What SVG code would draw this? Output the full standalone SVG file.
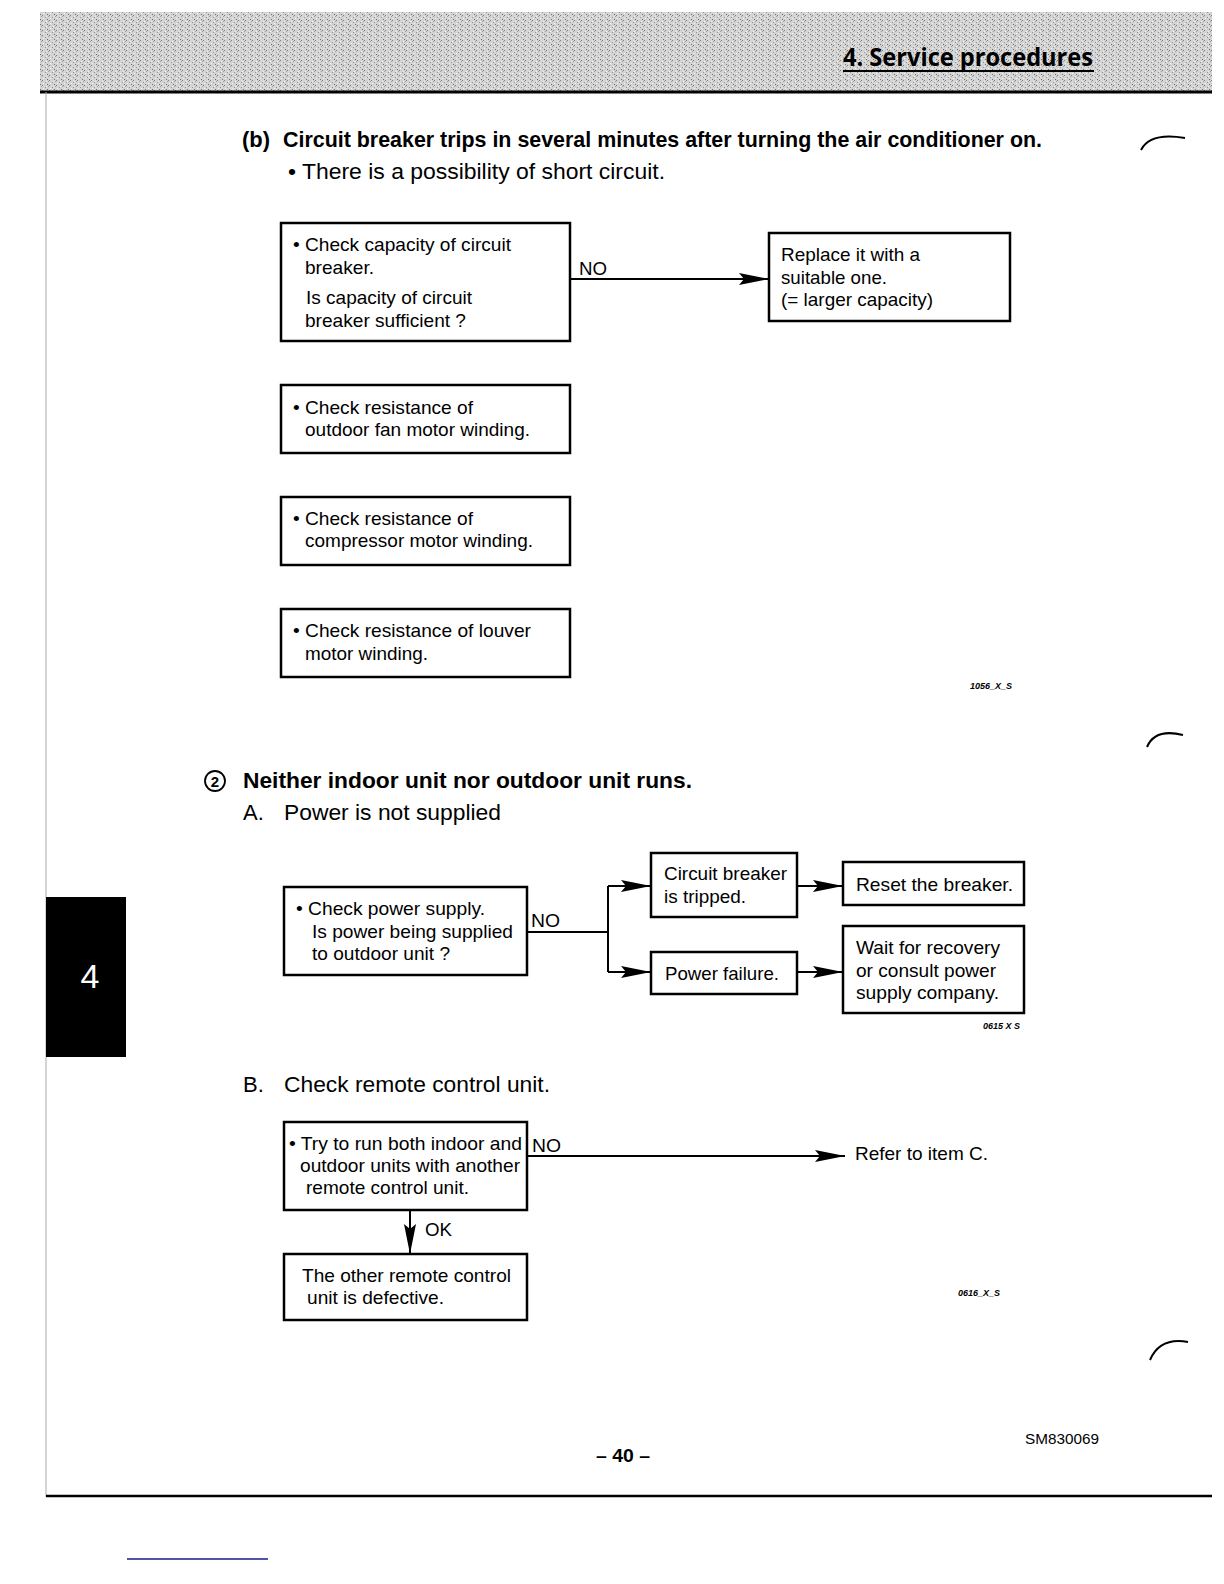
<svg xmlns="http://www.w3.org/2000/svg" width="1224" height="1584" viewBox="0 0 1224 1584">
<defs>
<pattern id="speck" width="7" height="5" patternUnits="userSpaceOnUse">
<rect width="7" height="5" fill="#d4d4d4"/>
<rect x="0" y="0" width="1" height="1" fill="#7e7e7e"/>
<rect x="3" y="2" width="1" height="1" fill="#959595"/>
<rect x="5" y="4" width="1" height="1" fill="#707070"/>
<rect x="6" y="1" width="1" height="1" fill="#a0a0a0"/>
<rect x="1" y="3" width="1" height="1" fill="#f2f2f2"/>
<rect x="4" y="1" width="1" height="1" fill="#f0f0f0"/>
</pattern>
<marker id="arr" markerUnits="userSpaceOnUse" markerWidth="34" markerHeight="16" refX="30" refY="8" orient="auto">
<path d="M0,2 L30,8 L0,14 L5,8 Z" fill="#000"/>
</marker>
</defs>
<style>
.box{fill:#fff;stroke:#000;stroke-width:2.5}
.t{font-family:"Liberation Sans",Arial,sans-serif;font-size:19px;fill:#000}
.h{font-family:"Liberation Sans",Arial,sans-serif;font-size:22px;font-weight:bold;fill:#000}
.s{font-family:"Liberation Sans",Arial,sans-serif;font-size:22px;fill:#000}
.c{fill:none;stroke:#000;stroke-width:2}
.code{font-family:"Liberation Sans",Arial,sans-serif;font-size:9px;font-style:italic;font-weight:bold;fill:#000}
</style>

<!-- header band -->
<rect x="40" y="12" width="1172" height="80" fill="url(#speck)"/>
<line x1="40" y1="92" x2="1212" y2="92" stroke="#000" stroke-width="3"/>
<text x="843" y="66" font-family="'Open Sans','Liberation Sans',sans-serif" font-size="25" font-weight="bold" textLength="250" lengthAdjust="spacingAndGlyphs">4. Service procedures</text>
<line x1="843" y1="71" x2="1094" y2="71" stroke="#000" stroke-width="2"/>

<!-- page frame -->
<line x1="46" y1="92" x2="46" y2="1497" stroke="#aaa" stroke-width="1"/>
<line x1="46" y1="1496" x2="1212" y2="1496" stroke="#000" stroke-width="2.5"/>
<line x1="127" y1="1559" x2="268" y2="1559" stroke="#1a1a8c" stroke-width="1.5"/>

<!-- tab -->
<rect x="46" y="897" width="80" height="160" fill="#000"/>
<text x="90" y="988" font-family="'Liberation Sans',Arial,sans-serif" font-size="34" fill="#fff" text-anchor="middle">4</text>

<!-- corner marks -->
<path d="M1141,150 Q1150,132 1185,138" class="c"/>
<path d="M1147,747 Q1155,728 1183,735" class="c"/>
<path d="M1150,1360 Q1160,1337 1188,1342" class="c"/>

<!-- section (b) -->
<text class="h" x="242" y="147" textLength="28" lengthAdjust="spacingAndGlyphs">(b)</text>
<text class="h" x="283" y="147" textLength="759" lengthAdjust="spacingAndGlyphs">Circuit breaker trips in several minutes after turning the air conditioner on.</text>
<text class="s" x="288" y="179" textLength="377" lengthAdjust="spacingAndGlyphs">• There is a possibility of short circuit.</text>

<g id="connectors">
<line x1="570" y1="279" x2="769" y2="279" class="c" marker-end="url(#arr)"/>
<polyline points="527,932 608,932" class="c"/>
<polyline points="608,886 608,972" class="c"/>
<line x1="608" y1="886" x2="651" y2="886" class="c" marker-end="url(#arr)"/>
<line x1="608" y1="972" x2="651" y2="972" class="c" marker-end="url(#arr)"/>
<line x1="797" y1="886" x2="843" y2="886" class="c" marker-end="url(#arr)"/>
<line x1="797" y1="972" x2="843" y2="972" class="c" marker-end="url(#arr)"/>
<line x1="527" y1="1156" x2="845" y2="1156" class="c" marker-end="url(#arr)"/>
<line x1="410" y1="1210" x2="410" y2="1254" class="c" marker-end="url(#arr)"/>
<text class="t" x="579" y="275" textLength="28" lengthAdjust="spacingAndGlyphs">NO</text>
<text class="t" x="531" y="927" textLength="29" lengthAdjust="spacingAndGlyphs">NO</text>
<text class="t" x="532" y="1152" textLength="29" lengthAdjust="spacingAndGlyphs">NO</text>
<text class="t" x="425" y="1236" textLength="27" lengthAdjust="spacingAndGlyphs">OK</text>
</g>

<g id="n1">
<rect class="box" x="281" y="223" width="289" height="118"/>
<text class="t" x="293" y="251" textLength="218" lengthAdjust="spacingAndGlyphs">• Check capacity of circuit</text>
<text class="t" x="305" y="274" textLength="69" lengthAdjust="spacingAndGlyphs">breaker.</text>
<text class="t" x="306" y="304" textLength="166" lengthAdjust="spacingAndGlyphs">Is capacity of circuit</text>
<text class="t" x="305" y="327" textLength="161" lengthAdjust="spacingAndGlyphs">breaker sufficient ?</text>
</g>
<g id="n2">
<rect class="box" x="769" y="233" width="241" height="88"/>
<text class="t" x="781" y="261" textLength="139" lengthAdjust="spacingAndGlyphs">Replace it with a</text>
<text class="t" x="781" y="284" textLength="106" lengthAdjust="spacingAndGlyphs">suitable one.</text>
<text class="t" x="781" y="306" textLength="152" lengthAdjust="spacingAndGlyphs">(= larger capacity)</text>
</g>
<g id="n3">
<rect class="box" x="281" y="385" width="289" height="68"/>
<text class="t" x="293" y="414" textLength="180" lengthAdjust="spacingAndGlyphs">• Check resistance of</text>
<text class="t" x="305" y="436" textLength="225" lengthAdjust="spacingAndGlyphs">outdoor fan motor winding.</text>
</g>
<g id="n4">
<rect class="box" x="281" y="497" width="289" height="68"/>
<text class="t" x="293" y="525" textLength="180" lengthAdjust="spacingAndGlyphs">• Check resistance of</text>
<text class="t" x="305" y="547" textLength="228" lengthAdjust="spacingAndGlyphs">compressor motor winding.</text>
</g>
<g id="n5">
<rect class="box" x="281" y="609" width="289" height="68"/>
<text class="t" x="293" y="637" textLength="238" lengthAdjust="spacingAndGlyphs">• Check resistance of louver</text>
<text class="t" x="305" y="660" textLength="123" lengthAdjust="spacingAndGlyphs">motor winding.</text>
</g>
<text class="code" x="970" y="689">1056_X_S</text>

<!-- section 2 -->
<circle cx="215" cy="781" r="10" fill="none" stroke="#000" stroke-width="1.8"/>
<text x="215" y="787" font-family="'Liberation Sans',Arial,sans-serif" font-size="15" font-weight="bold" text-anchor="middle">2</text>
<text class="h" x="243" y="788" textLength="449" lengthAdjust="spacingAndGlyphs">Neither indoor unit nor outdoor unit runs.</text>
<text class="s" x="243" y="820">A.</text>
<text class="s" x="284" y="820" textLength="217" lengthAdjust="spacingAndGlyphs">Power is not supplied</text>

<g id="a1">
<rect class="box" x="284" y="887" width="243" height="88"/>
<text class="t" x="296" y="915" textLength="189" lengthAdjust="spacingAndGlyphs">• Check power supply.</text>
<text class="t" x="312" y="938" textLength="201" lengthAdjust="spacingAndGlyphs">Is power being supplied</text>
<text class="t" x="312" y="960" textLength="138" lengthAdjust="spacingAndGlyphs">to outdoor unit ?</text>
</g>
<g id="a2">
<rect class="box" x="651" y="853" width="146" height="64"/>
<text class="t" x="664" y="880" textLength="123" lengthAdjust="spacingAndGlyphs">Circuit breaker</text>
<text class="t" x="664" y="903" textLength="82" lengthAdjust="spacingAndGlyphs">is tripped.</text>
</g>
<g id="a3">
<rect class="box" x="651" y="952" width="146" height="42"/>
<text class="t" x="665" y="980" textLength="114" lengthAdjust="spacingAndGlyphs">Power failure.</text>
</g>
<g id="a4">
<rect class="box" x="843" y="862" width="181" height="43"/>
<text class="t" x="856" y="891" textLength="157" lengthAdjust="spacingAndGlyphs">Reset the breaker.</text>
</g>
<g id="a5">
<rect class="box" x="843" y="926" width="181" height="87"/>
<text class="t" x="856" y="954" textLength="144" lengthAdjust="spacingAndGlyphs">Wait for recovery</text>
<text class="t" x="856" y="977" textLength="140" lengthAdjust="spacingAndGlyphs">or consult power</text>
<text class="t" x="856" y="999" textLength="143" lengthAdjust="spacingAndGlyphs">supply company.</text>
</g>
<text class="code" x="983" y="1029" font-size="8">0615 X S</text>

<text class="s" x="243" y="1092">B.</text>
<text class="s" x="284" y="1092" textLength="266" lengthAdjust="spacingAndGlyphs">Check remote control unit.</text>

<g id="b1">
<rect class="box" x="284" y="1122" width="243" height="88"/>
<text class="t" x="289" y="1150" textLength="233" lengthAdjust="spacingAndGlyphs">• Try to run both indoor and</text>
<text class="t" x="300" y="1172" textLength="220" lengthAdjust="spacingAndGlyphs">outdoor units with another</text>
<text class="t" x="306" y="1194" textLength="163" lengthAdjust="spacingAndGlyphs">remote control unit.</text>
</g>
<g id="b3">
<text class="t" x="855" y="1160" textLength="133" lengthAdjust="spacingAndGlyphs">Refer to item C.</text>
</g>
<g id="b2">
<rect class="box" x="284" y="1254" width="243" height="66"/>
<text class="t" x="302" y="1282" textLength="209" lengthAdjust="spacingAndGlyphs">The other remote control</text>
<text class="t" x="307" y="1304" textLength="137" lengthAdjust="spacingAndGlyphs">unit is defective.</text>
</g>
<text class="code" x="958" y="1296" font-size="8">0616_X_S</text>

<!-- footer -->
<text x="596" y="1462" font-family="'Liberation Sans',Arial,sans-serif" font-size="19" font-weight="bold" textLength="54" lengthAdjust="spacingAndGlyphs">– 40 –</text>
<text x="1025" y="1444" font-family="'Liberation Sans',Arial,sans-serif" font-size="15" textLength="74" lengthAdjust="spacingAndGlyphs">SM830069</text>
</svg>
